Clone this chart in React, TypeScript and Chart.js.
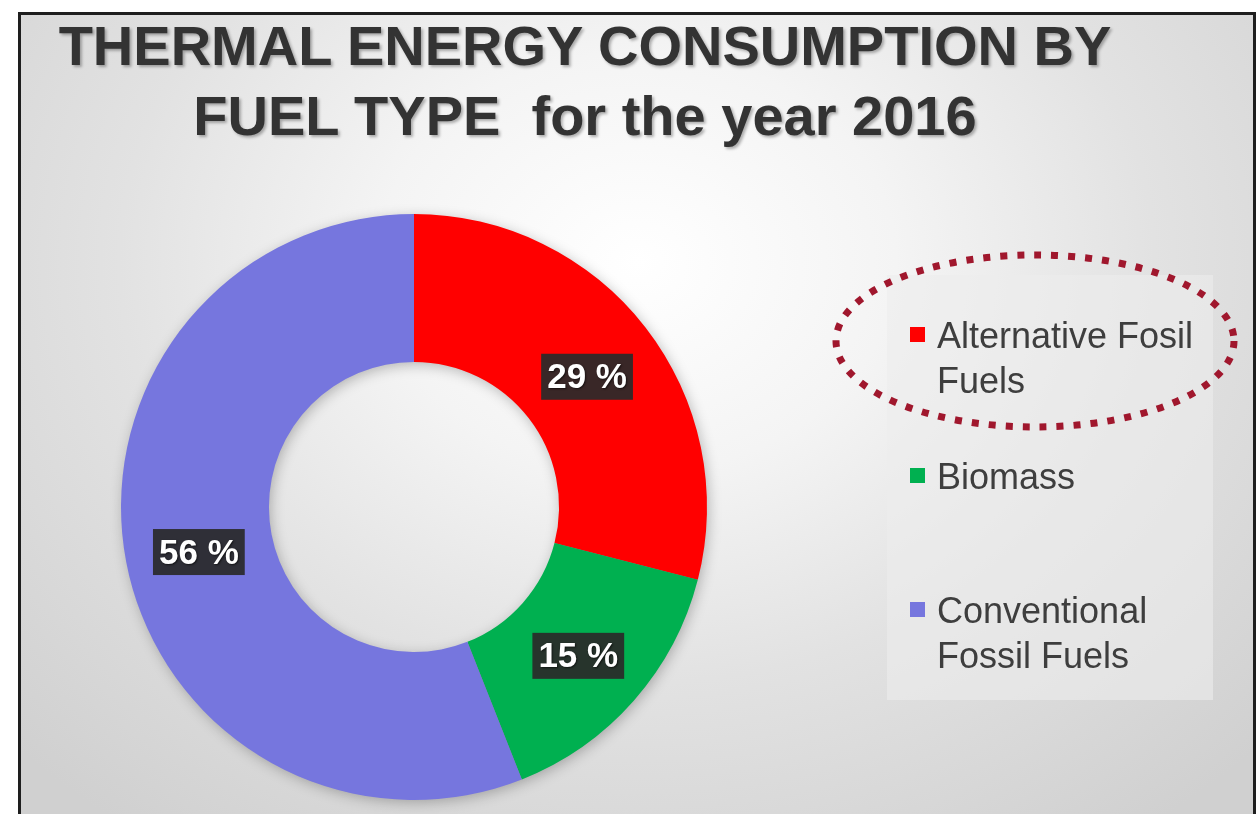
import React, { useEffect, useRef } from "react";
import { Chart, registerables } from "chart.js";

Chart.register(...registerables);

const titleLines = ["THERMAL ENERGY CONSUMPTION BY", "FUEL TYPE  for the year 2016"];
const categories = ["Alternative Fosil Fuels", "Biomass", "Conventional Fossil Fuels"];
const shares = [29, 15, 56];
const sliceColors = ["#FF0000", "#00B050", "#7676DE"];
const legendTops = [313, 454, 588];

const ringShadow = {
  id: "ringShadow",
  beforeDatasetsDraw(chart: any) {
    const meta = chart.getDatasetMeta(0);
    const a = meta.data[0] as any;
    if (!a) return;
    const ctx = chart.ctx;
    ctx.save();
    ctx.shadowColor = "rgba(0,0,0,0.28)";
    ctx.shadowBlur = 14;
    ctx.shadowOffsetX = 2;
    ctx.shadowOffsetY = 3;
    ctx.fillStyle = "#8a8a8a";
    ctx.beginPath();
    ctx.arc(a.x, a.y, a.outerRadius - 1, 0, Math.PI * 2);
    ctx.arc(a.x, a.y, a.innerRadius + 1, 0, Math.PI * 2, true);
    ctx.fill();
    ctx.restore();
  },
};

const pctLabels = {
  id: "pctLabels",
  afterDatasetsDraw(chart: any) {
    const meta = chart.getDatasetMeta(0);
    const ctx = chart.ctx;
    ctx.save();
    ctx.font = "bold 35px 'Liberation Sans', Arial, sans-serif";
    ctx.textAlign = "center";
    ctx.textBaseline = "middle";
    meta.data.forEach((arc: any, i: number) => {
      const p = arc.tooltipPosition(false);
      const text = `${shares[i]} %`;
      const w = ctx.measureText(text).width + 12;
      const h = 46;
      ctx.fillStyle = "rgba(42,42,42,0.93)";
      ctx.fillRect(p.x - w / 2, p.y + 4 - h / 2, w, h);
      ctx.shadowColor = "rgba(0,0,0,0.6)";
      ctx.shadowBlur = 2;
      ctx.shadowOffsetX = 1;
      ctx.shadowOffsetY = 1;
      ctx.fillStyle = "#ffffff";
      ctx.fillText(text, p.x, p.y + 6);
      ctx.shadowColor = "transparent";
    });
    ctx.restore();
  },
};

export default function App() {
  const canvasRef = useRef<HTMLCanvasElement | null>(null);

  useEffect(() => {
    if (!canvasRef.current) return;
    const chart = new Chart(canvasRef.current, {
      type: "doughnut",
      data: {
        labels: categories,
        datasets: [
          {
            data: shares,
            backgroundColor: sliceColors,
            borderWidth: 0,
            hoverOffset: 0,
            offset: 0,
          } as any,
        ],
      },
      options: {
        animation: false,
        responsive: true,
        maintainAspectRatio: false,
        cutout: "49.5%",
        layout: { padding: { left: 121, right: 552, top: 213, bottom: 13 } },
        plugins: {
          legend: { display: false },
          title: { display: false },
          tooltip: { enabled: false },
        },
        events: [],
      } as any,
      plugins: [ringShadow, pctLabels],
    });
    return () => chart.destroy();
  }, []);

  const font = "'Liberation Sans', Arial, Helvetica, sans-serif";

  return (
    <div
      style={{
        position: "absolute",
        left: 0,
        top: 0,
        width: 1259,
        height: 814,
        overflow: "hidden",
        background: "#ffffff",
        fontFamily: font,
      }}
    >
      <div
        style={{
          position: "absolute",
          left: 18,
          top: 12,
          width: 1238,
          height: 830,
          boxSizing: "border-box",
          border: "3px solid #1e1e1e",
          background:
            "radial-gradient(ellipse 70% 85% at 50% 30%, #ffffff 0%, #f4f4f4 30%, #e2e2e2 60%, #d0d0d0 100%)",
        }}
      />
      <div
        style={{
          position: "absolute",
          left: 887,
          top: 275,
          width: 326,
          height: 425,
          background: "rgba(236,236,236,0.6)",
        }}
      />
      <div style={{ position: "absolute", left: 0, top: 11, width: 1170, textAlign: "center" }}>
        {titleLines.map((t, i) => (
          <div
            key={i}
            style={{
              fontSize: 56,
              fontWeight: "bold",
              lineHeight: "70px",
              whiteSpace: "pre",
              color: "#333333",
              textShadow: "2px 2px 3px rgba(0,0,0,0.3)",
            }}
          >
            {t}
          </div>
        ))}
      </div>
      <canvas
        ref={canvasRef}
        style={{ position: "absolute", left: 0, top: 0, width: 1259, height: 814 }}
      />
      {categories.map((c, i) => (
        <div key={c} style={{ position: "absolute", left: 910, top: legendTops[i] }}>
          <div
            style={{
              position: "absolute",
              left: 0,
              top: 14,
              width: 15,
              height: 15,
              background: sliceColors[i],
            }}
          />
          <div
            style={{
              position: "absolute",
              left: 27,
              top: 0,
              width: 275,
              fontSize: 36,
              lineHeight: "45px",
              color: "#3e3e3e",
            }}
          >
            {c}
          </div>
        </div>
      ))}
      <svg
        width={1259}
        height={814}
        style={{ position: "absolute", left: 0, top: 0, pointerEvents: "none" }}
      >
        <ellipse
          cx={1035}
          cy={341}
          rx={199}
          ry={86}
          fill="none"
          stroke="#a0172d"
          strokeWidth={7}
          strokeDasharray="7 10"
        />
      </svg>
    </div>
  );
}
